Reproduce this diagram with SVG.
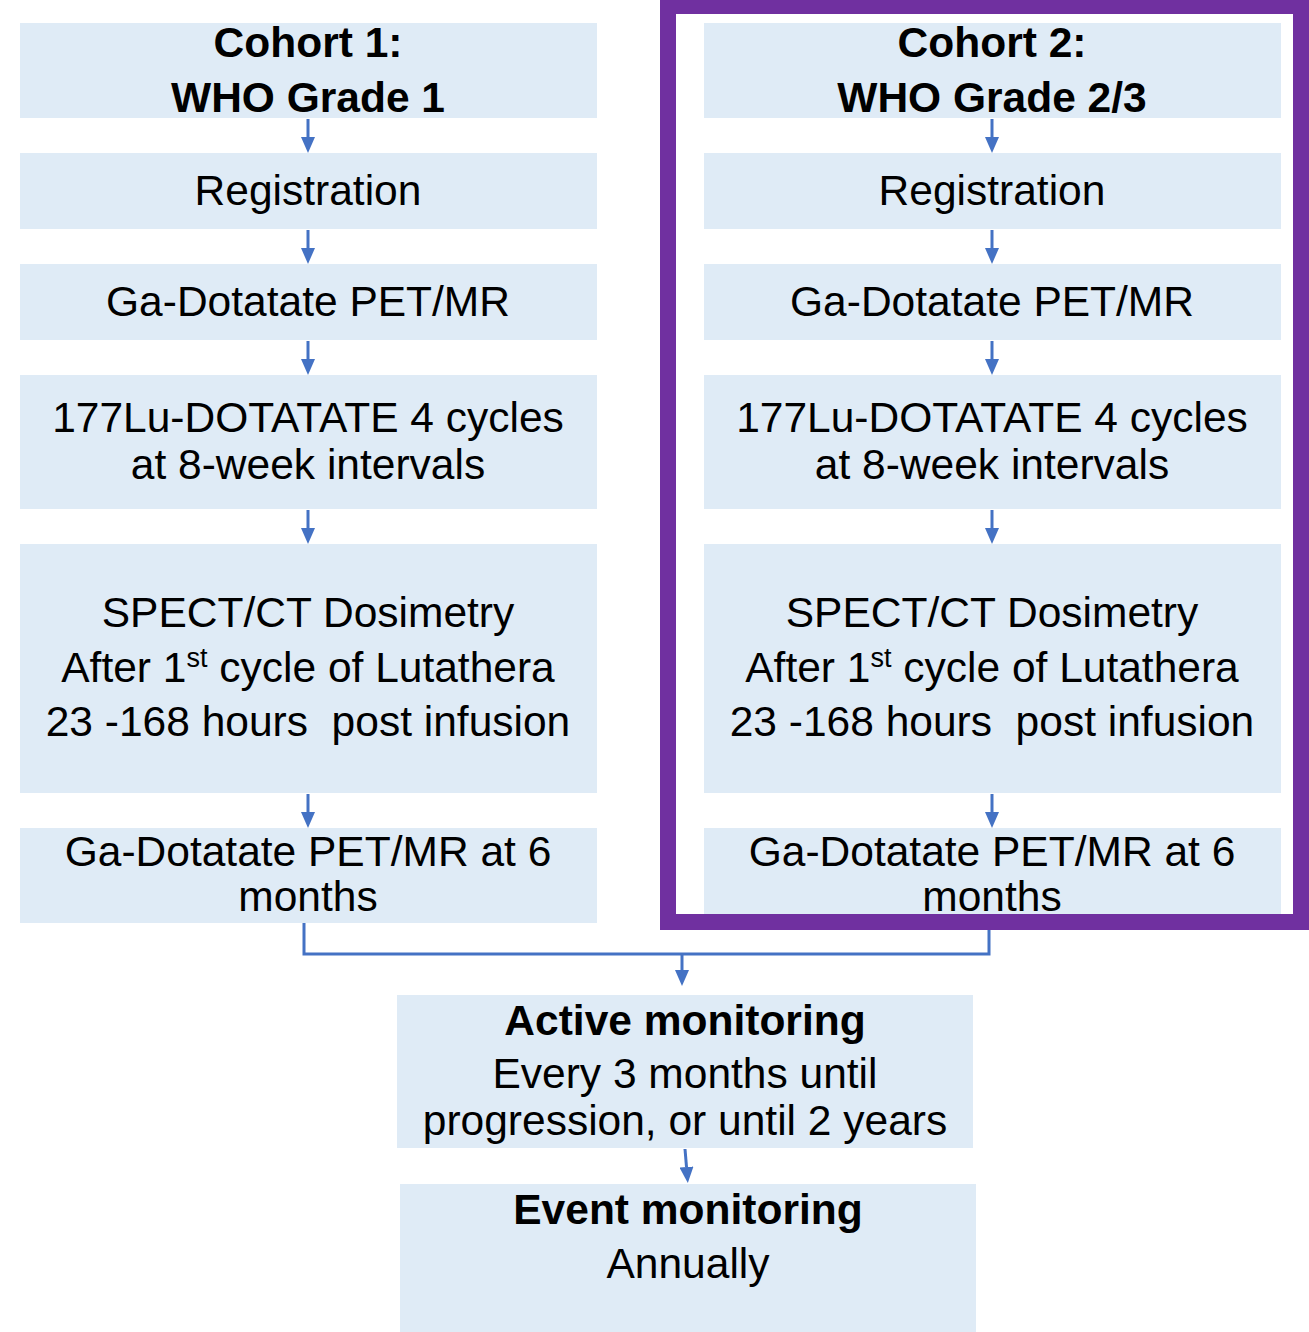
<svg xmlns="http://www.w3.org/2000/svg" width="1309" height="1332" viewBox="0 0 1309 1332">
<style>
.box{fill:#DFEBF6;}
.t{font-family:"Liberation Sans",Arial,sans-serif;font-size:42.5px;fill:#000;text-anchor:middle;}
.b{font-weight:bold;}
.c{fill:none;stroke:#4472C4;stroke-width:3;}
.frame{fill:none;stroke:#7030A0;stroke-width:16;}
</style>
<defs>
<marker id="ah" viewBox="0 0 16 14" refX="0" refY="7" markerWidth="16" markerHeight="14" markerUnits="userSpaceOnUse" orient="auto">
<path d="M0,0 L16,7 L0,14 z" fill="#4472C4"/>
</marker>
</defs>
<rect width="1309" height="1332" fill="#fff"/>

<g id="c1-cohort"><rect class="box" x="20" y="23" width="577" height="95"/><text class="t b" x="308" y="57">Cohort 1:</text><text class="t b" x="308" y="112">WHO Grade 1</text></g>
<g id="c1-registration"><rect class="box" x="20" y="153" width="577" height="76"/><text class="t" x="308" y="205">Registration</text></g>
<g id="c1-pet"><rect class="box" x="20" y="264" width="577" height="76"/><text class="t" x="308" y="316">Ga-Dotatate PET/MR</text></g>
<g id="c1-lu"><rect class="box" x="20" y="375" width="577" height="134"/><text class="t" x="308" y="432">177Lu-DOTATATE 4 cycles</text><text class="t" x="308" y="479">at 8-week intervals</text></g>
<g id="c1-spect"><rect class="box" x="20" y="544" width="577" height="249"/><text class="t" x="308" y="627">SPECT/CT Dosimetry</text><text class="t" x="308" y="682">After 1<tspan font-size="27" dy="-15">st</tspan><tspan dy="15"> cycle of Lutathera</tspan></text><text class="t" x="308" y="736" xml:space="preserve">23 -168 hours  post infusion</text></g>
<g id="c1-pet6"><rect class="box" x="20" y="828" width="577" height="95"/><text class="t" x="308" y="866">Ga-Dotatate PET/MR at 6</text><text class="t" x="308" y="911">months</text></g>

<g id="c2-cohort"><rect class="box" x="704" y="23" width="577" height="95"/><text class="t b" x="992" y="57">Cohort 2:</text><text class="t b" x="992" y="112">WHO Grade 2/3</text></g>
<g id="c2-registration"><rect class="box" x="704" y="153" width="577" height="76"/><text class="t" x="992" y="205">Registration</text></g>
<g id="c2-pet"><rect class="box" x="704" y="264" width="577" height="76"/><text class="t" x="992" y="316">Ga-Dotatate PET/MR</text></g>
<g id="c2-lu"><rect class="box" x="704" y="375" width="577" height="134"/><text class="t" x="992" y="432">177Lu-DOTATATE 4 cycles</text><text class="t" x="992" y="479">at 8-week intervals</text></g>
<g id="c2-spect"><rect class="box" x="704" y="544" width="577" height="249"/><text class="t" x="992" y="627">SPECT/CT Dosimetry</text><text class="t" x="992" y="682">After 1<tspan font-size="27" dy="-15">st</tspan><tspan dy="15"> cycle of Lutathera</tspan></text><text class="t" x="992" y="736" xml:space="preserve">23 -168 hours  post infusion</text></g>
<g id="c2-pet6"><rect class="box" x="704" y="828" width="577" height="95"/><text class="t" x="992" y="866">Ga-Dotatate PET/MR at 6</text><text class="t" x="992" y="911">months</text></g>

<g id="cohort2-frame"><rect class="frame" x="668" y="6" width="633" height="916"/></g>

<g id="active"><rect class="box" x="397" y="995" width="576" height="153"/><text class="t b" x="685" y="1035">Active monitoring</text><text class="t" x="685" y="1088">Every 3 months until</text><text class="t" x="685" y="1135">progression, or until 2 years</text></g>
<g id="event"><rect class="box" x="400" y="1184" width="576" height="148"/><text class="t b" x="688" y="1224">Event monitoring</text><text class="t" x="688" y="1278">Annually</text></g>

<g id="connectors">
<path class="c" d="M308,119 V137" marker-end="url(#ah)"/>
<path class="c" d="M308,230 V248" marker-end="url(#ah)"/>
<path class="c" d="M308,341 V359" marker-end="url(#ah)"/>
<path class="c" d="M308,510 V528" marker-end="url(#ah)"/>
<path class="c" d="M308,794 V812" marker-end="url(#ah)"/>
<path class="c" d="M992,119 V137" marker-end="url(#ah)"/>
<path class="c" d="M992,230 V248" marker-end="url(#ah)"/>
<path class="c" d="M992,341 V359" marker-end="url(#ah)"/>
<path class="c" d="M992,510 V528" marker-end="url(#ah)"/>
<path class="c" d="M992,794 V812" marker-end="url(#ah)"/>
<path class="c" d="M304,923 V954 H989 V930"/>
<path class="c" d="M682,954 V970" marker-end="url(#ah)"/>
<path class="c" d="M685,1149 L686.5,1167" marker-end="url(#ah)"/>
</g>
</svg>
